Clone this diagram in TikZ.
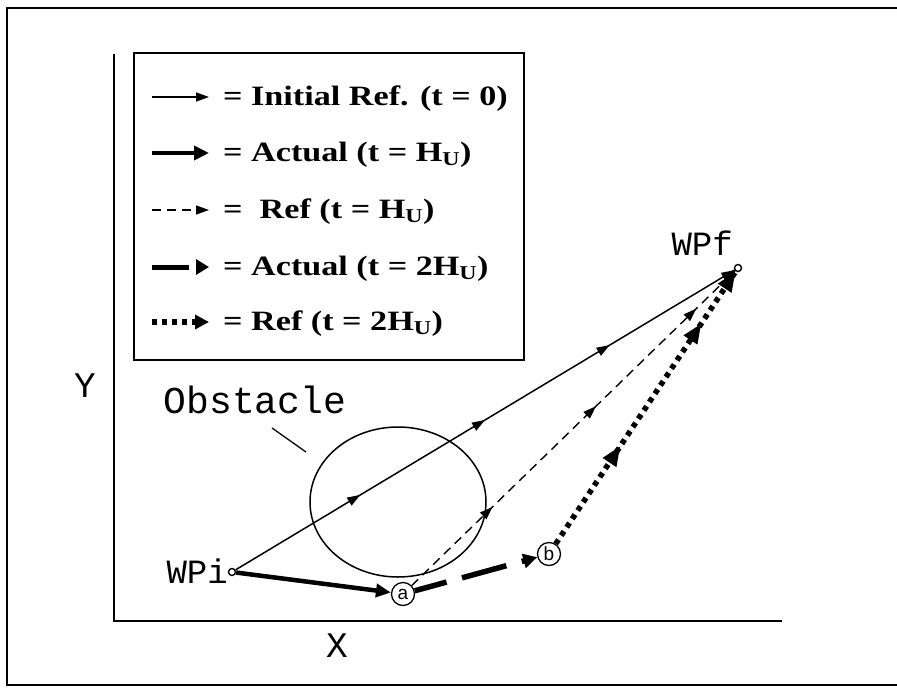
\documentclass[tikz,border=0pt]{standalone}
\usepackage{fontspec}
\setmainfont{Liberation Serif}
\newfontfamily\legfont{Liberation Serif}[FakeStretch=1.22]
\newfontfamily\crfont{Liberation Mono}
\newfontfamily\ptfont{Liberation Sans}
\usepackage{tikz}
\usetikzlibrary{arrows.meta,decorations.markings,shapes.geometric,calc}
\tikzset{
  frm/.style    ={line width=1.8pt},
  axis/.style   ={line width=2pt},
  axlbl/.style  ={font=\crfont\fontsize{36}{36}\selectfont,inner sep=0},
  obslbl/.style ={font=\crfont\fontsize{38}{38}\selectfont,inner sep=0,anchor=base},
  leg/.style    ={anchor=base west,inner sep=0,font=\legfont\bfseries\fontsize{28}{28}\selectfont},
  wplbl/.style  ={anchor=base east,inner sep=0,font=\crfont\fontsize{34}{34}\selectfont},
  wp/.style     ={draw,circle,fill=white,line width=1.4pt,minimum size=7pt,inner sep=0},
  pt/.style     ={draw,circle,fill=white,line width=1.3pt,minimum size=23pt,inner sep=0,font=\ptfont\fontsize{19}{19}\selectfont},
  obst/.style   ={draw,ellipse,line width=1.5pt,minimum width=176pt,minimum height=150pt,inner sep=0},
  initref/.style={line width=1.5pt},
  actual/.style ={line width=4.5pt},
  actdash/.style={line width=5.5pt,dash pattern=on 46pt off 16pt,dash phase=13pt},
  refdash/.style={line width=1.4pt,dash pattern=on 9pt off 6pt},
  refdot/.style ={line width=5.5pt,dash pattern=on 5pt off 5pt},
  tip/.style    ={-{Triangle[length=13pt,width=9pt]}},
  fattip/.style ={-{Triangle[length=15pt,width=13pt]}},
  inittips/.style={postaction={decorate},decoration={markings,
      mark=at position 0.25 with {\arrow{Triangle[length=13pt,width=9pt]}},
      mark=at position 0.5 with {\arrow{Triangle[length=13pt,width=9pt]}},
      mark=at position 0.75 with {\arrow{Triangle[length=13pt,width=9pt]}},
      mark=at position 1 with {\arrow{Triangle[length=13pt,width=9pt]}}}},
  reftips/.style={postaction={decorate},decoration={markings,
      mark=at position 0.25 with {\arrow{Triangle[length=13pt,width=9pt]}},
      mark=at position 0.57 with {\arrow{Triangle[length=13pt,width=9pt]}},
      mark=at position 0.88 with {\arrow{Triangle[length=13pt,width=9pt]}},
      mark=at position 1 with {\arrow{Triangle[length=13pt,width=9pt]}}}},
  dottips/.style={postaction={decorate},decoration={markings,
      mark=at position 0.36 with {\arrow{Triangle[length=20pt,width=15pt]}},
      mark=at position 0.81 with {\arrow{Triangle[length=20pt,width=15pt]}},
      mark=at position 1 with {\arrow{Triangle[length=20pt,width=15pt]}}}},
}
\begin{document}
\begin{tikzpicture}[x=1pt,y=-1pt]
  \useasboundingbox (0,0) rectangle (897,688);
  \draw[frm] (897,8) -- (7,8) -- (7,685) -- (897,685);

  % axes
  \coordinate (ytop) at (114,54);
  \coordinate (origin) at (114,621);
  \coordinate (xend) at (782,621);
  \draw[axis] (ytop) -- (origin) -- (xend);
  \node[axlbl] (ylbl) at (85,386) {Y};
  \node[axlbl] (xlbl) at (337,646) {X};

  % legend
  \draw[axis] (134,53) rectangle (524,360);
  \node[leg] (t1) at (223,105) {= Initial Ref. (t = 0)};
  \node[leg] (t2) at (223,161) {= Actual (t = H\textsubscript{U})};
  \node[leg] (t3) at (223,218) {=\ \ Ref (t = H\textsubscript{U})};
  \node[leg] (t4) at (223,275) {= Actual (t = 2H\textsubscript{U})};
  \node[leg] (t5) at (223,330) {= Ref (t = 2H\textsubscript{U})};
  \draw[initref,tip] ($(t1.base west)+(-71,-8)$) -- ++(57,0);
  \draw[actual,-{Triangle[length=15pt,width=14pt]}] ($(t2.base west)+(-71,-8)$) -- ++(57,0);
  \draw[refdash,tip] ($(t3.base west)+(-71,-8)$) -- ++(57,0);
  \draw[line width=5pt,dash pattern=on 37pt off 40pt,-{Triangle[length=13pt,width=15pt]}] ($(t4.base west)+(-71,-8)$) -- ++(57,0);
  \draw[refdot,-{Triangle[length=14pt,width=14pt]}] ($(t5.base west)+(-71,-8)$) -- ++(57,0);

  % obstacle
  \node[obst] (obstacle) at (398,502) {};
  \node[obslbl] (obstlbl) at (255,413) {Obstacle};
  \coordinate (leadA) at (272,428);
  \coordinate (leadB) at (306,452);
  \draw[line width=1.3pt] (leadA) -- (leadB);

  % way points
  \node[wp] (WPi) at (232,572) {};
  \node[wp] (WPf) at (738,268) {};
  \node[wplbl] (WPilbl) at (228,583) {WPi};
  \node[wplbl] (WPflbl) at (733,255) {WPf};
  \node[pt] (a) at (403,594) {a};
  \node[pt] (b) at (549,554) {b};

  % paths
  \draw[initref,inittips] (WPi) -- (WPf);
  \draw[actual,fattip] (WPi) -- (a);
  \draw[actdash,-{Triangle[length=14pt,width=14pt]}] (a) -- (b);
  \draw[refdash,reftips] (a) -- (WPf);
  \draw[refdot,dottips] (b) -- (WPf);
\end{tikzpicture}
\end{document}
